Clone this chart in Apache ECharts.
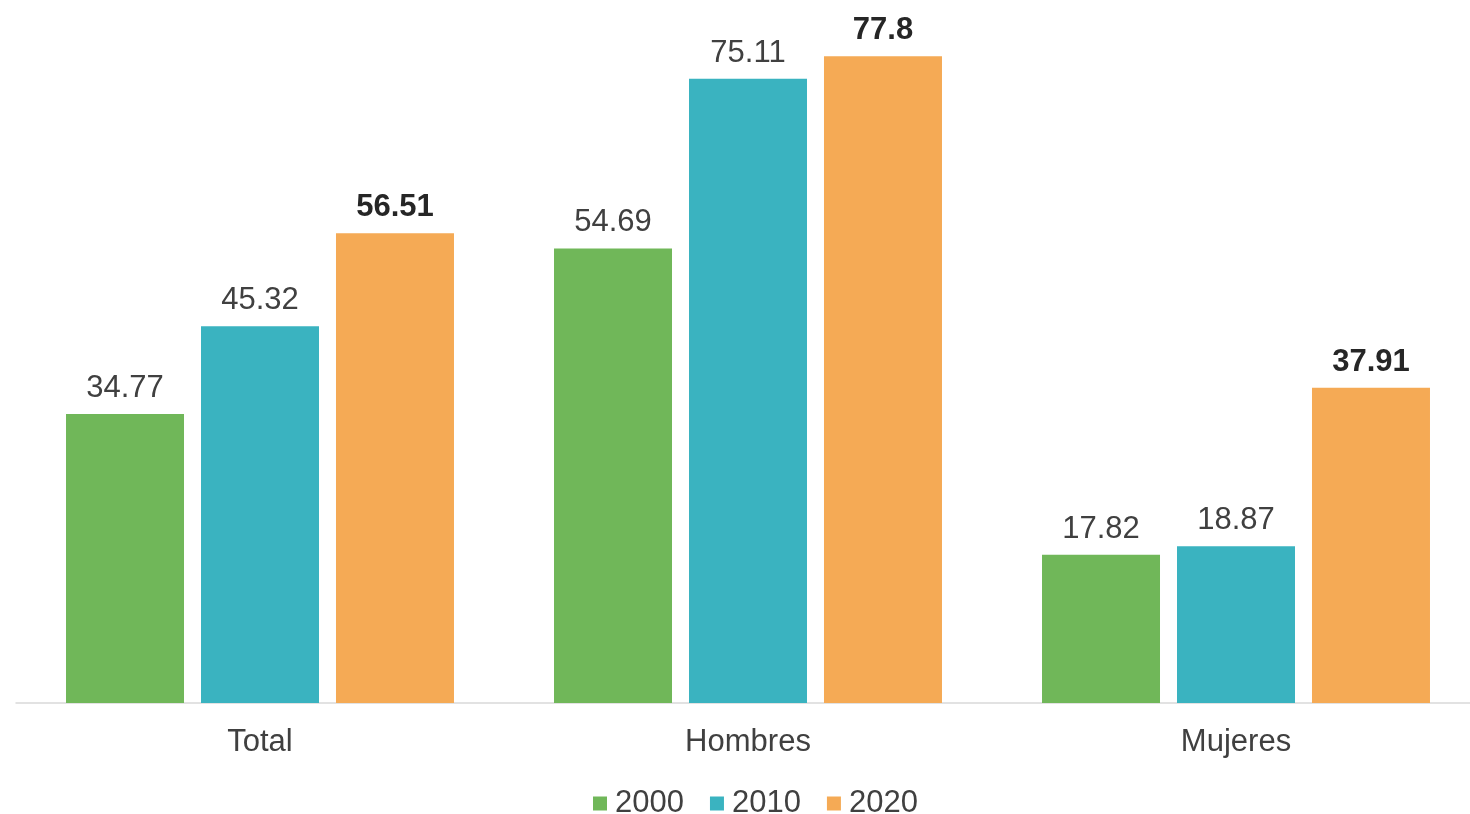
<!DOCTYPE html>
<html><head><meta charset="utf-8">
<script src="https://cdn.jsdelivr.net/npm/echarts@6/dist/echarts.min.js"></script>
<style>html,body{margin:0;padding:0;background:#fff}#c{width:1470px;height:814px}</style>
</head><body><div id="c"></div>
<script>
const categories = ['Total', 'Hombres', 'Mujeres'];
const seriesNames = ['2000', '2010', '2020'];
const v2000 = [34.77, 54.69, 17.82];
const v2010 = [45.32, 75.11, 18.87];
const v2020 = [56.51, 77.8, 37.91];
const colors = ['#70b759', '#3ab3c0', '#f5aa55'];
const font = 'Arial, "Liberation Sans", sans-serif';
const chart = echarts.init(document.getElementById('c'));
function mk(name, data, color, bold) {
  return {
    name, type: 'bar', data, barWidth: 118, barGap: '14.4%',
    itemStyle: { color },
    label: { show: true, position: 'top', distance: 10, fontFamily: font, fontSize: 31,
      color: bold ? '#262626' : '#404040', fontWeight: bold ? 'bold' : 'normal',
      formatter: p => String(p.value) }
  };
}
chart.setOption({
  animation: false,
  grid: { left: 16, width: 1464, top: 38, bottom: 111, containLabel: false, outerBoundsMode: 'none' },
  legend: { top: 783, left: 588, itemWidth: 14, itemHeight: 14, itemGap: 26,
    icon: 'rect', textStyle: { fontFamily: font, fontSize: 31, color: '#404040', padding: [0,0,0,3] },
    data: seriesNames },
  xAxis: { type: 'category', data: categories,
    axisLine: { lineStyle: { color: '#d9d9d9', width: 1.5 } }, axisTick: { show: false },
    axisLabel: { fontFamily: font, fontSize: 31, color: '#404040', margin: 24 } },
  yAxis: { type: 'value', min: 0, max: 80, show: false, splitLine: { show: false } },
  series: [mk(seriesNames[0], v2000, colors[0], false), mk(seriesNames[1], v2010, colors[1], false), mk(seriesNames[2], v2020, colors[2], true)]
});
</script></body></html>
